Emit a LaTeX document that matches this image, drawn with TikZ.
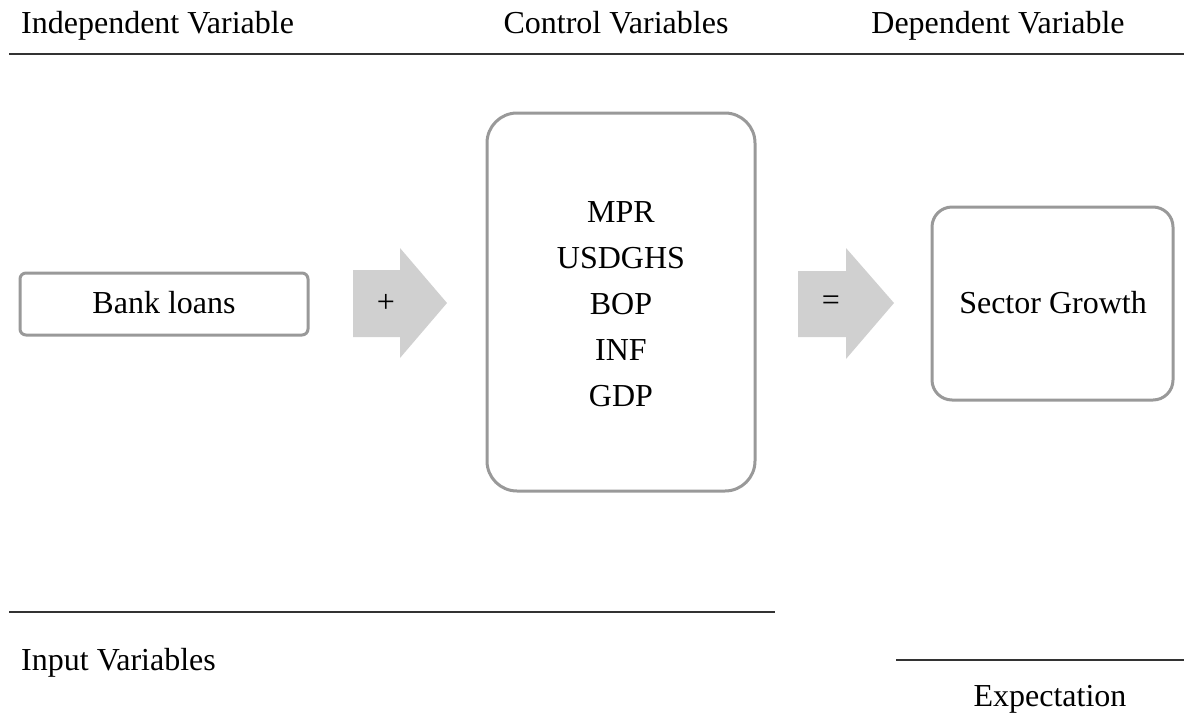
\documentclass[tikz,border=0pt]{standalone}
\usepackage{fontspec}
\setmainfont{Liberation Serif}
\usetikzlibrary{shapes.arrows}
\definecolor{boxgray}{HTML}{999999}
\definecolor{arrowgray}{HTML}{D0D0D0}
\definecolor{linegray}{HTML}{333333}
\begin{document}
\begin{tikzpicture}[x=1pt,y=-1pt,
  every node/.style={font=\fontsize{32}{46}\selectfont, inner sep=0pt},
  varbox/.style={draw=boxgray, line width=3pt, fill=white},
  bigarrow/.style={fill=arrowgray, draw=none},
  rule/.style={draw=linegray, line width=1.3pt}]
\useasboundingbox (0,0) rectangle (1184,713);
% header
\node[anchor=base west] (hind) at (21,33) {Independent Variable};
\node[anchor=base] (hctl) at (616,33) {Control Variables};
\node[anchor=base] (hdep) at (998,33) {Dependent Variable};
\coordinate (hl1) at (9,54);
\coordinate (hl2) at (1184,54);
\draw[rule] (hl1) -- (hl2);
% boxes
\draw[varbox, rounded corners=6pt] (20,273) rectangle (308,335);
\node[anchor=base] (bank) at (164,313) {Bank loans};
\draw[varbox, rounded corners=30pt] (487,113) rectangle (755,491);
\node[align=center] (ctl) at (621,304) {MPR\\USDGHS\\BOP\\INF\\GDP};
\draw[varbox, rounded corners=20pt] (932,207) rectangle (1173,400);
\node[anchor=base] (sect) at (1053,313) {Sector Growth};
% arrows
\fill[bigarrow] (353,270) -- (400,270) -- (400,248) -- (447,303) -- (400,358) -- (400,337) -- (353,337) -- cycle;
\node (plus) at (386,303) {+};
\fill[bigarrow] (798,271) -- (846,271) -- (846,248) -- (894,303) -- (846,359) -- (846,337) -- (798,337) -- cycle;
\node (eq) at (831,303) {=};
% bottom
\coordinate (bl1) at (9,612);
\coordinate (bl2) at (775,612);
\draw[rule] (bl1) -- (bl2);
\node[anchor=base west] (inp) at (21,670) {Input Variables};
\coordinate (br1) at (896,660);
\coordinate (br2) at (1184,660);
\draw[rule] (br1) -- (br2);
\node[anchor=base] (exp) at (1050,706) {Expectation};
\end{tikzpicture}
\end{document}
